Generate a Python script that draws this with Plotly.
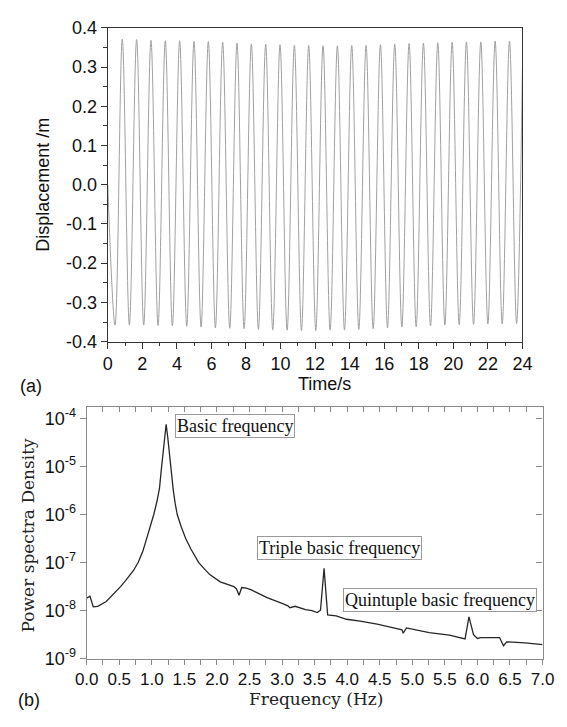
import plotly.graph_objects as go

# ---------------- data ----------------
# (a) displacement time history: start point, alternating troughs/peaks, end point
disp_t = [0.00, 0.42, 0.84, 1.25, 1.67, 2.08, 2.50, 2.91, 3.33, 3.74, 4.16, 4.57, 4.99,
          5.40, 5.82, 6.23, 6.65, 7.06, 7.48, 7.89, 8.31, 8.72, 9.14, 9.55, 9.97, 10.38,
          10.80, 11.21, 11.63, 12.04, 12.46, 12.87, 13.29, 13.70, 14.12, 14.53, 14.95,
          15.36, 15.78, 16.19, 16.61, 17.02, 17.44, 17.85, 18.27, 18.68, 19.10, 19.51,
          19.93, 20.34, 20.76, 21.17, 21.59, 22.00, 22.42, 22.83, 23.25, 23.66, 24.00]
disp_v = [0.0, -0.358, 0.371, -0.358, 0.370, -0.358, 0.368, -0.359, 0.367, -0.360, 0.367,
          -0.361, 0.365, -0.363, 0.365, -0.365, 0.363, -0.366, 0.361, -0.367, 0.359,
          -0.369, 0.358, -0.370, 0.357, -0.371, 0.355, -0.372, 0.355, -0.372, 0.354,
          -0.371, 0.354, -0.370, 0.355, -0.369, 0.355, -0.367, 0.357, -0.365, 0.358,
          -0.363, 0.360, -0.362, 0.361, -0.360, 0.362, -0.358, 0.363, -0.357, 0.364,
          -0.356, 0.364, -0.355, 0.366, -0.355, 0.366, -0.354, 0.30]

# (b) power spectral density
freq = [0.00, 0.05, 0.10, 0.17, 0.30, 0.40, 0.47, 0.52, 0.60, 0.716, 0.79, 0.863, 0.91,
        0.985, 1.03, 1.08, 1.118, 1.147, 1.17, 1.195, 1.22, 1.245, 1.27, 1.29, 1.31,
        1.33, 1.36, 1.39, 1.45, 1.52, 1.60, 1.72, 1.80, 1.89, 2.05, 2.26, 2.30,
        2.34, 2.38, 2.45, 2.53, 2.77, 3.00, 3.09, 3.12, 3.20, 3.36, 3.46, 3.54, 3.59,
        3.645, 3.70, 3.83, 3.99, 4.20, 4.46, 4.78, 4.84, 4.86, 4.91, 5.26, 5.57, 5.81,
        5.87, 5.94, 6.00, 6.05, 6.34, 6.40, 6.45, 6.73, 7.00]
psd = [1.82e-8, 2.00e-8, 1.20e-8, 1.23e-8, 1.55e-8, 2.14e-8, 2.60e-8, 3.16e-8, 4.27e-8,
       6.76e-8, 1.00e-7, 1.74e-7, 2.82e-7, 6.17e-7, 1.00e-6, 1.91e-6, 3.55e-6, 8.91e-6,
       1.78e-5, 3.98e-5, 7.59e-5, 3.98e-5, 1.78e-5, 1.00e-5, 5.62e-6, 3.16e-6, 1.66e-6,
       1.00e-6, 5.62e-7, 3.16e-7, 1.91e-7, 1.00e-7, 7.59e-8, 5.62e-8, 3.98e-8, 3.16e-8,
       2.82e-8, 2.09e-8, 3.02e-8, 2.95e-8, 2.69e-8, 1.86e-8, 1.41e-8, 1.26e-8, 1.15e-8,
       1.23e-8, 1.05e-8, 1.00e-8, 9.12e-9, 1.02e-8, 7.59e-8, 8.13e-9, 7.76e-9, 6.61e-9,
       6.03e-9, 5.25e-9, 4.17e-9, 3.98e-9, 3.39e-9, 4.37e-9, 3.47e-9, 3.09e-9, 2.57e-9,
       7.41e-9, 3.16e-9, 2.63e-9, 2.75e-9, 2.75e-9, 1.86e-9, 2.24e-9, 2.14e-9, 1.95e-9]

# tick labels
disp_tickvals = [-0.4, -0.3, -0.2, -0.1, 0.0, 0.1, 0.2, 0.3, 0.4]
disp_ticktext = ["-0.4", "-0.3", "-0.2", "-0.1", "0.0", "0.1", "0.2", "0.3", "0.4"]
psd_tickvals = [1e-9, 1e-8, 1e-7, 1e-6, 1e-5, 1e-4]
psd_ticktext = ["10<sup>-9</sup>", "10<sup>-8</sup>", "10<sup>-7</sup>",
                "10<sup>-6</sup>", "10<sup>-5</sup>", "10<sup>-4</sup>"]

# ---------------- layout geometry ----------------
W, H = 567, 727
def fx(p): return p / W
def fy(p): return 1 - p / H

SANS = "Liberation Sans, Arial, sans-serif"
SERIF = "Liberation Serif, Times New Roman, serif"
DSERIF = "DejaVu Serif, serif"
DARK = "#333333"
GRAY = "#8a8a8a"

fig = go.Figure()
fig.add_trace(go.Scatter(x=disp_t, y=disp_v, mode="lines", xaxis="x", yaxis="y",
                         line=dict(color="#a0a0a0", width=1, shape="spline", smoothing=1),
                         hoverinfo="skip", showlegend=False))
fig.add_trace(go.Scatter(x=freq, y=psd, mode="lines", xaxis="x2", yaxis="y2",
                         line=dict(color="#262626", width=1.3),
                         hoverinfo="skip", showlegend=False))
# helper trace for the mirrored (inside-tick) top/right axes of panel (b)
fig.add_trace(go.Scatter(x=freq, y=psd, mode="lines", xaxis="x3", yaxis="y3",
                         line=dict(color="rgba(0,0,0,0)", width=0),
                         hoverinfo="skip", showlegend=False))

tickfont = dict(family=SANS, size=18, color="#111")
tickfont_b = dict(family=SANS, size=17, color="#111")

fig.update_layout(
    width=W, height=H, autosize=False,
    margin=dict(l=0, r=0, t=0, b=0, pad=0),
    paper_bgcolor="white", plot_bgcolor="white",
    showlegend=False,
    xaxis=dict(domain=[fx(100), fx(533)], anchor="y", range=[0, 24],
               tickmode="linear", tick0=0, dtick=2,
               ticks="outside", ticklen=6, tickwidth=1, tickcolor=DARK,
               minor=dict(tickmode="linear", tick0=0, dtick=1, ticks="outside",
                          ticklen=3.5, tickwidth=1, tickcolor=DARK),
               showline=True, linecolor=DARK, linewidth=1.3, mirror=True,
               showgrid=False, zeroline=False, tickfont=tickfont),
    yaxis=dict(domain=[fy(341), fy(18.3)], anchor="x", range=[-0.4, 0.4],
               tickmode="array", tickvals=disp_tickvals, ticktext=disp_ticktext,
               ticks="outside", ticklen=6, tickwidth=1, tickcolor=DARK,
               minor=dict(tickmode="linear", tick0=0, dtick=0.05, ticks="outside",
                          ticklen=3.5, tickwidth=1, tickcolor=DARK),
               showline=True, linecolor=DARK, linewidth=1.3, mirror=True,
               showgrid=False, zeroline=False, tickfont=tickfont),
    xaxis2=dict(domain=[fx(78), fx(554)], anchor="y2", range=[0, 7],
                tickmode="linear", tick0=0, dtick=0.5, tickformat=".1f",
                ticks="outside", ticklen=5, tickwidth=1, tickcolor=GRAY,
                minor=dict(tickmode="linear", tick0=0, dtick=0.25, ticks="outside",
                           ticklen=5, tickwidth=1, tickcolor=GRAY),
                showline=True, linecolor=GRAY, linewidth=1.3, mirror=False,
                showgrid=False, zeroline=False, tickfont=tickfont_b),
    yaxis2=dict(domain=[fy(667), fy(408)], anchor="x2", type="log",
                range=[-9, -3.757],
                tickmode="array", tickvals=psd_tickvals, ticktext=psd_ticktext,
                ticks="outside", ticklen=6, tickwidth=1, tickcolor=GRAY,
                showline=True, linecolor=GRAY, linewidth=1.3, mirror=False,
                showgrid=False, zeroline=False, tickfont=tickfont),
    xaxis3=dict(overlaying="x2", anchor="y3", side="top", range=[0, 7],
                tickmode="linear", tick0=0, dtick=0.5,
                ticks="inside", ticklen=5, tickwidth=1, tickcolor=GRAY,
                minor=dict(tickmode="linear", tick0=0, dtick=0.25, ticks="inside",
                           ticklen=5, tickwidth=1, tickcolor=GRAY),
                showticklabels=False, showline=True, linecolor=GRAY, linewidth=1.3,
                showgrid=False, zeroline=False),
    yaxis3=dict(overlaying="y2", anchor="x3", side="right", type="log",
                range=[-9, -3.757],
                tickmode="array", tickvals=psd_tickvals,
                ticks="inside", ticklen=6, tickwidth=1, tickcolor=GRAY,
                showticklabels=False, showline=True, linecolor=GRAY, linewidth=1.3,
                showgrid=False, zeroline=False),
)

def note(text, x, y, font, angle=0, **kw):
    fig.add_annotation(text=text, x=fx(x), y=fy(y), xref="paper", yref="paper",
                       xanchor="center", yanchor="middle", showarrow=False,
                       textangle=angle, font=font, **kw)

note("Displacement /m", 32, 180, dict(family=SANS, size=18, color="#111"), angle=-90)
note("Time/s", 326, 385, dict(family=SANS, size=18, color="#111"))
note("(a)", 20, 387, dict(family=SANS, size=18, color="#111"))
note("(b)", 18, 710, dict(family=SANS, size=18, color="#111"))
note("Power spectra Density", 17, 540, dict(family=DSERIF, size=17, color="#222"), angle=-90)
note("Frequency (Hz)", 317, 709, dict(family=DSERIF, size=17, color="#222"))

boxfont = dict(family=SERIF, size=18, color="#111")
note("Basic frequency", 233, 428, boxfont, bordercolor="#999", borderwidth=1,
     borderpad=1, bgcolor="white")
note("Triple basic frequency", 342, 553, boxfont, bordercolor="#999", borderwidth=1,
     borderpad=1, bgcolor="white")
note("Quintuple basic frequency", 447, 607, boxfont, bordercolor="#999", borderwidth=1,
     borderpad=1, bgcolor="white")

fig.write_html("out.html")
